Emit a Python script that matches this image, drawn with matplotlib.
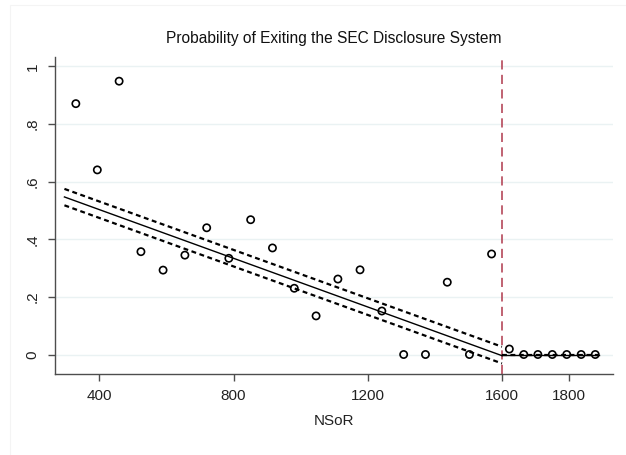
import matplotlib
matplotlib.use("Agg")
import matplotlib.pyplot as plt
from matplotlib.patches import Rectangle

plt.rcParams['font.family'] = ['Liberation Sans', 'DejaVu Sans']

# Binned scatter points
x_pts = [330, 394, 459, 524, 590, 655, 720, 786, 851, 916, 981, 1046,
         1111, 1177, 1242, 1307, 1372, 1437, 1503, 1569,
         1622, 1665, 1707, 1750, 1793, 1836, 1878]
y_pts = [0.871, 0.641, 0.949, 0.357, 0.293, 0.345, 0.440, 0.334, 0.468, 0.370, 0.230, 0.134,
         0.262, 0.294, 0.151, 0.0, 0.0, 0.251, 0.0, 0.349,
         0.019, 0.0, 0.0, 0.0, 0.0, 0.0, 0.0]

# Linear fit with CI, left of cutoff
fit_left_x = [296, 1600]
fit_left_y = [0.547, -0.004]
ci_left_hi = [0.575, 0.027]
ci_left_lo = [0.518, -0.031]

# Linear fit, right of cutoff
fit_right_x = [1600, 1888]
fit_right_y = [0.0, 0.0]

cutoff = 1600
x_ticks = [400, 800, 1200, 1600, 1800]
y_ticks = [0, 0.2, 0.4, 0.6, 0.8, 1.0]
y_tick_labels = ['0', '.2', '.4', '.6', '.8', '1']

fig = plt.figure(figsize=(6.26, 4.55), dpi=100)
fig.patches.append(Rectangle((10/626, -0.01), 1, 1 - 5/455 + 0.01, transform=fig.transFigure,
                             fill=False, edgecolor='#f4f4f4', linewidth=0.8))
ax = fig.add_axes([54.7/626, 1 - 374/455, (612.7 - 54.7)/626, (374 - 56.7)/455])

for y in y_ticks:
    ax.axhline(y, color='#eaf2f3', linewidth=1.0, zorder=0)

ax.plot(fit_left_x, ci_left_hi, color='black', linestyle=(0, (2.2, 1.6)), linewidth=1.6, zorder=2)
ax.plot(fit_left_x, ci_left_lo, color='black', linestyle=(0, (2.2, 1.6)), linewidth=1.6, zorder=2)
ax.plot(fit_left_x, fit_left_y, color='black', linewidth=1.0, zorder=2)
ax.plot(fit_right_x, fit_right_y, color='black', linestyle=(0, (2.2, 1.6)), linewidth=1.6, zorder=2)
ax.plot(fit_right_x, fit_right_y, color='black', linewidth=1.0, zorder=2)

ax.scatter(x_pts, y_pts, s=27, facecolors='none', edgecolors='black', linewidths=1.2, zorder=3)

ax.axvline(cutoff, color='#b5485a', linestyle=(0, (5.5, 3.2)), linewidth=1.2, zorder=1)

ax.set_xlim(267, 1930)
ax.set_ylim(-0.0677, 1.034)
ax.set_xticks(x_ticks)
ax.set_xticklabels([str(v) for v in x_ticks])
ax.set_yticks(y_ticks)
ax.set_yticklabels(y_tick_labels, rotation=90, va='center')

for s in ['top', 'right']:
    ax.spines[s].set_visible(False)
for s in ['left', 'bottom']:
    ax.spines[s].set_color('#4d4d4d')
    ax.spines[s].set_linewidth(1.0)
ax.tick_params(axis='both', direction='out', length=5, width=1.0, color='#4d4d4d',
               labelsize=11, labelcolor='#222222')
ax.tick_params(axis='x', pad=6)
ax.tick_params(axis='y', pad=6)

ax.set_xlabel('NSoR', fontsize=11, color='#222222', labelpad=8)
fig.text(334/626, 1 - 38/455, 'Probability of Exiting the SEC Disclosure System',
         ha='center', va='center', fontsize=11.2, color='#111111')

fig.savefig('out.png', dpi=100, facecolor='white')
